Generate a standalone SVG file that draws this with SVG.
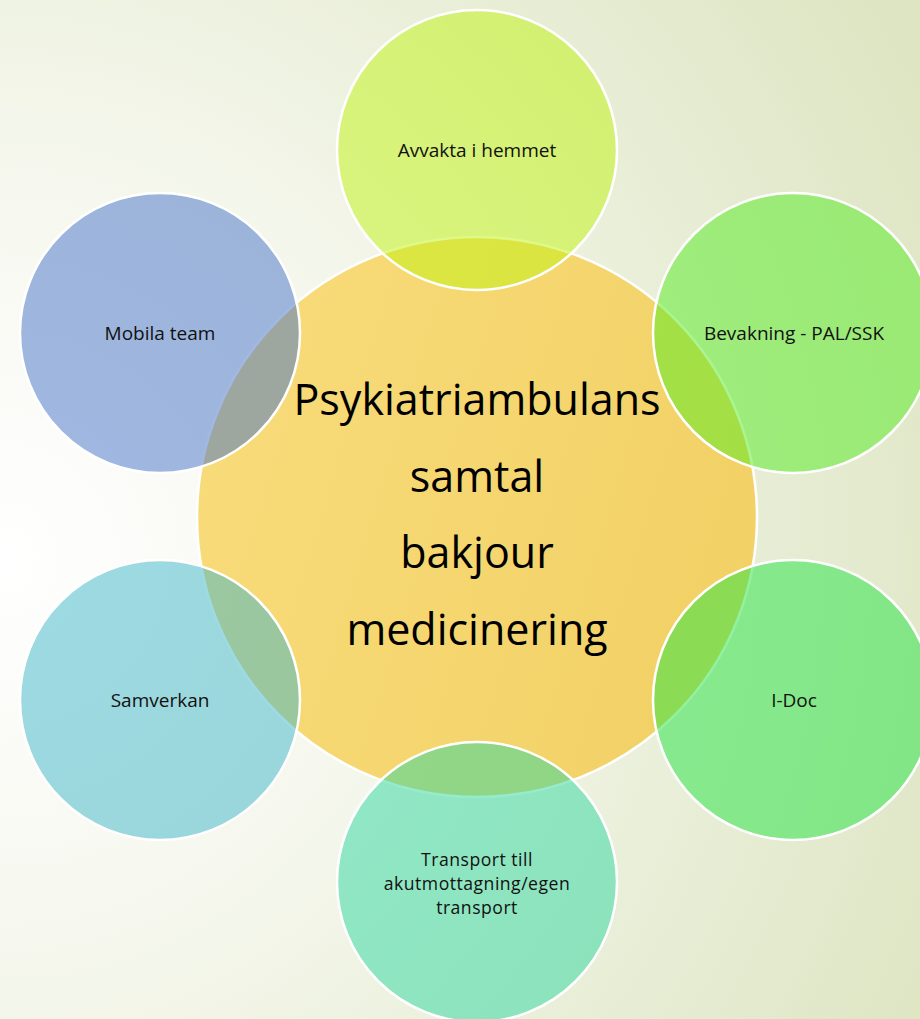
<svg xmlns="http://www.w3.org/2000/svg" width="920" height="1019" viewBox="0 0 920 1019">
  <defs>
    <radialGradient id="bg" cx="0" cy="560" r="1050" gradientUnits="userSpaceOnUse">
      <stop offset="0" stop-color="#FFFFFF"/>
      <stop offset="0.35" stop-color="#F6F8EF"/>
      <stop offset="1" stop-color="#DDE5C2"/>
    </radialGradient>
    <linearGradient id="core" x1="0" y1="0" x2="1" y2="0.3">
      <stop offset="0" stop-color="#F9DC7C"/>
      <stop offset="1" stop-color="#F2D267"/>
    </linearGradient>
  </defs>
  <style>
    .sat { stroke: #FFFFFF; stroke-width: 2.5; fill-opacity: 0.5; }
    .core { stroke: #FFFFFF; stroke-width: 2.5; fill: url(#core); }
    .lbl { font-family: "Open Sans", "Liberation Sans", sans-serif; font-size: 19px; fill: #111111; text-anchor: middle; }
    .lbl2 { font-family: "Open Sans", "Liberation Sans", sans-serif; font-size: 17.6px; letter-spacing: 0.5px; fill: #111111; text-anchor: middle; }
    .big { font-family: "Open Sans", "Liberation Sans", sans-serif; font-size: 43px; fill: #000000; text-anchor: middle; }
  </style>
  <rect x="0" y="0" width="920" height="1019" fill="url(#bg)"/>

  <g id="center">
    <circle class="core" cx="477" cy="517" r="280"/>
  </g>

  <g id="connectors"></g>

  <g id="node-avvakta">
    <circle class="sat" cx="477" cy="150" r="140" fill="#C0F312"/>
    <text class="lbl" x="477" y="157">Avvakta i hemmet</text>
  </g>
  <g id="node-bevakning">
    <circle class="sat" cx="793" cy="333" r="140" fill="#54EB22"/>
    <text class="lbl" x="794" y="340">Bevakning - PAL/SSK</text>
  </g>
  <g id="node-idoc">
    <circle class="sat" cx="793" cy="700" r="140" fill="#24E442"/>
    <text class="lbl" x="794" y="707">I-Doc</text>
  </g>
  <g id="node-transport">
    <circle class="sat" cx="477" cy="882" r="140" fill="#2ED8A0"/>
    <text class="lbl2" x="477" y="866">Transport till</text>
    <text class="lbl2" x="477" y="890">akutmottagning/egen</text>
    <text class="lbl2" x="477" y="914">transport</text>
  </g>
  <g id="node-samverkan">
    <circle class="sat" cx="160" cy="700" r="140" fill="#3EB6C8"/>
    <text class="lbl" x="160" y="707">Samverkan</text>
  </g>
  <g id="node-mobila">
    <circle class="sat" cx="160" cy="333" r="140" fill="#4472C8"/>
    <text class="lbl" x="160" y="340">Mobila team</text>
  </g>

  <g id="center-text">
    <text class="big" x="477" y="415">Psykiatriambulans</text>
    <text class="big" x="477" y="492">samtal</text>
    <text class="big" x="477" y="568">bakjour</text>
    <text class="big" x="477" y="645">medicinering</text>
  </g>
</svg>
